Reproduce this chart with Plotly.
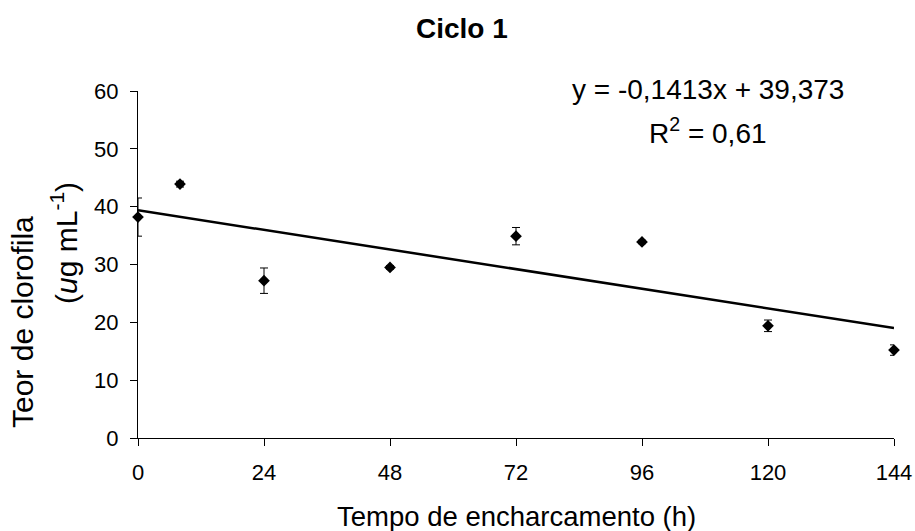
import plotly.graph_objects as go

tempo = [0, 8, 24, 48, 72, 96, 120, 144]
teor = [38.2, 43.9, 27.2, 29.5, 34.9, 33.9, 19.4, 15.2]
erro = [3.3, 0.5, 2.2, 0.3, 1.5, 0.3, 1.0, 0.9]
slope = -0.1413
intercept = 39.373
fit_x = [0, 144]
fit_y = [intercept + slope * x for x in fit_x]
x_ticks = [0, 24, 48, 72, 96, 120, 144]
y_ticks = [0, 10, 20, 30, 40, 50, 60]

font = "Liberation Sans, Arial, sans-serif"

fig = go.Figure()
fig.add_trace(go.Scatter(
    x=fit_x, y=fit_y, mode="lines",
    line=dict(color="black", width=2.5), showlegend=False, hoverinfo="skip"))
fig.add_trace(go.Scatter(
    x=tempo, y=teor, mode="markers",
    marker=dict(symbol="diamond", color="black", size=9),
    error_y=dict(type="data", array=erro, color="black", thickness=1, width=4),
    showlegend=False, cliponaxis=False))

L, R, T, B = 138, 21, 91, 93
fig.update_layout(
    width=915, height=531,
    paper_bgcolor="white", plot_bgcolor="white",
    margin=dict(l=L, r=R, t=T, b=B),
    font=dict(family=font, size=22, color="black"),
    xaxis=dict(range=[0, 144], tickvals=x_ticks, ticks="outside", ticklen=7, tickcolor="black",
               showline=True, linecolor="black", linewidth=1, showgrid=False, zeroline=False,
               automargin=False, ticklabelstandoff=8, ticklabeloverflow="allow"),
    yaxis=dict(range=[0, 60], tickvals=y_ticks, ticks="outside", ticklen=7, tickcolor="black",
               showline=True, linecolor="black", linewidth=1, showgrid=False, zeroline=False,
               automargin=False, ticklabelstandoff=7),
    annotations=[
        dict(text="<b>Ciclo 1</b>", x=0.428, y=1.179, xref="paper", yref="paper",
             xanchor="center", yanchor="middle", showarrow=False, font=dict(size=28)),
        dict(text="y = -0,1413x + 39,373", x=0.7546, y=1.003, xref="paper", yref="paper",
             xanchor="center", yanchor="middle", showarrow=False, font=dict(size=28)),
        dict(text="R<sup>2</sup> = 0,61", x=0.7546, y=0.885, xref="paper", yref="paper",
             xanchor="center", yanchor="middle", showarrow=False, font=dict(size=28)),
        dict(text="Tempo de encharcamento (h)", x=0.5, y=-0.2248, xref="paper", yref="paper",
             xanchor="center", yanchor="middle", showarrow=False, font=dict(size=27.5)),
        dict(text="Teor de clorofila", x=(22 - L) / 756, y=(438 - 322) / 347,
             xref="paper", yref="paper", xanchor="center", yanchor="middle",
             textangle=-90, showarrow=False, font=dict(size=30)),
        dict(text="(<i>u</i>g mL<sup>-1</sup>)", x=(64 - L) / 756, y=(438 - 243) / 347,
             xref="paper", yref="paper", xanchor="center", yanchor="middle",
             textangle=-90, showarrow=False, font=dict(size=30)),
    ],
)

fig.write_html("out.html", config={"displayModeBar": False},
               post_script="document.body.style.margin='0';document.body.style.overflow='hidden';")
